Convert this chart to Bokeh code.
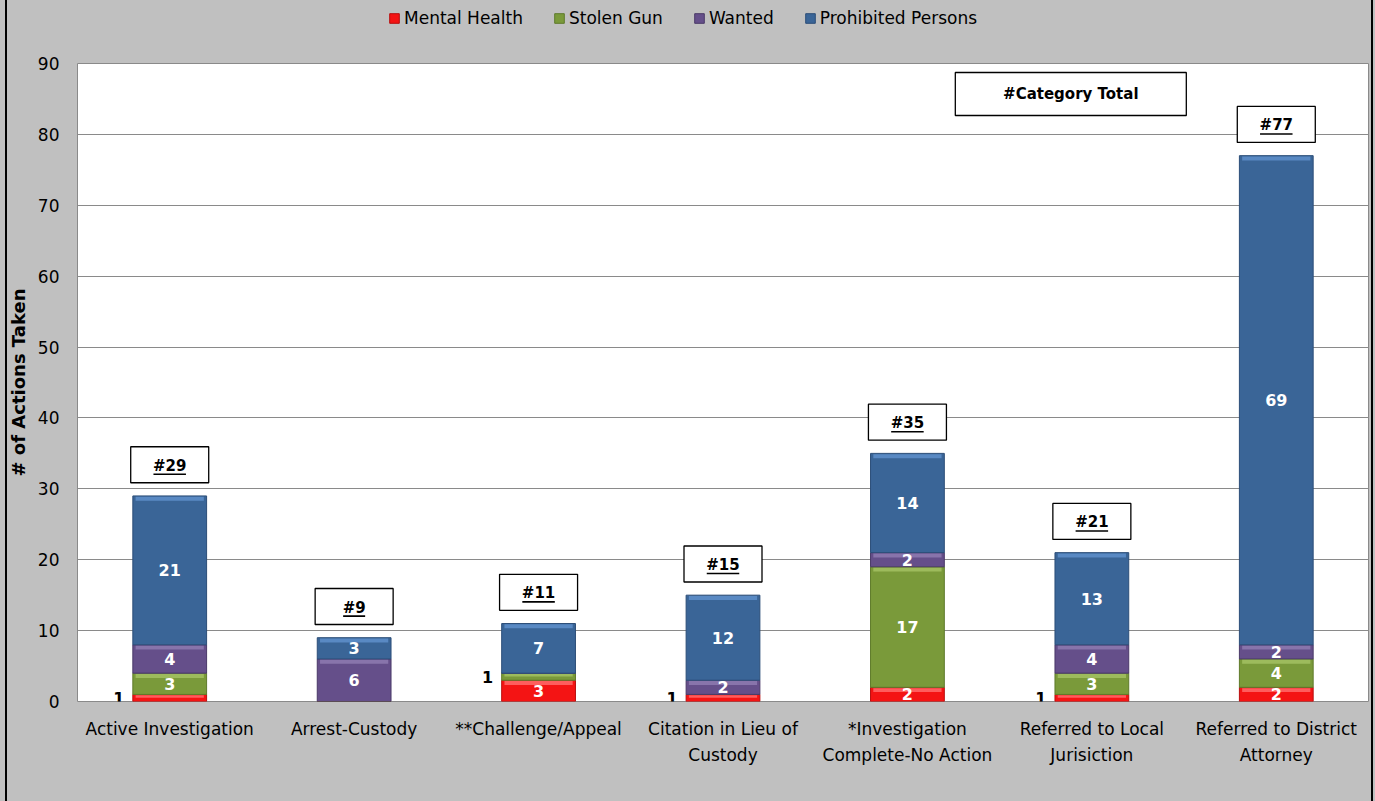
from bokeh.plotting import figure
from bokeh.layouts import column
from bokeh.models import FactorRange, Range1d, Legend, LegendItem, ColumnDataSource
from bokeh.core.properties import value
from bokeh.embed import file_html
from bokeh.resources import INLINE

categories = ["Active Investigation", "Arrest-Custody", "**Challenge/Appeal",
              "Citation in Lieu of\nCustody", "*Investigation\nComplete-No Action",
              "Referred to Local\nJurisiction", "Referred to District\nAttorney"]
series = ["Mental Health", "Stolen Gun", "Wanted", "Prohibited Persons"]
mental_health = [1, 0, 3, 1, 2, 1, 2]
stolen_gun = [3, 0, 1, 0, 17, 3, 4]
wanted = [4, 6, 0, 2, 2, 4, 2]
prohibited = [21, 3, 7, 12, 14, 13, 69]
y_ticks = [0, 10, 20, 30, 40, 50, 60, 70, 80, 90]
legend_note = "#Category Total"

colors = ["#F41414", "#7A9A3A", "#654F8A", "#3A6597"]
edges = ["#B80E0E", "#5E7A2A", "#4A3968", "#2C4E78"]
lights = ["#FF6A6A", "#A3C163", "#8E7AB0", "#5F8FCA"]
FONT = "DejaVu Sans"
GRAY = "#C0C0C0"

data = {"cat": categories, "Mental Health": mental_health, "Stolen Gun": stolen_gun,
        "Wanted": wanted, "Prohibited Persons": prohibited}
totals = [sum(v) for v in zip(mental_health, stolen_gun, wanted, prohibited)]
src = ColumnDataSource(data)

# ---- legend strip ----
lg = figure(width=1375, height=40, output_backend="svg", toolbar_location=None,
            x_range=Range1d(0, 1), y_range=Range1d(0, 1),
            x_axis_location=None, y_axis_location=None,
            min_border=0, min_border_left=0, min_border_right=0, min_border_top=0, min_border_bottom=0)
lg.background_fill_alpha = 0
lg.border_fill_alpha = 0
lg.outline_line_color = None
lg.xgrid.visible = False
lg.ygrid.visible = False
dummies = [lg.vbar(x=[-5], top=[-5], bottom=[-6], width=1, fill_color=c, line_color=e)
           for c, e in zip(colors, edges)]
legend = Legend(items=[LegendItem(label=s, renderers=[r]) for s, r in zip(series, dummies)],
                orientation="horizontal", location=(311, 12), background_fill_alpha=0,
                border_line_color=None, label_text_font=FONT, label_text_font_size="17px",
                label_text_color="black", glyph_width=12, glyph_height=12,
                label_standoff=4, spacing=30, padding=4, margin=0)
lg.add_layout(legend, "center")

# ---- main chart ----
p = figure(x_range=FactorRange(*categories), y_range=Range1d(0, 90),
           width=1375, height=761, output_backend="svg", toolbar_location=None,
           min_border_left=77, min_border_right=7, min_border_top=23, min_border_bottom=100)
p.background_fill_color = "white"
p.border_fill_alpha = 0
p.outline_line_color = "#8A8A8A"

rs = p.vbar_stack(series, x="cat", width=0.4, source=src, fill_color=colors,
                  line_color=edges, line_width=1)

# bevel highlight along the top of each segment
vals = [mental_health, stolen_gun, wanted, prohibited]
for k, s in enumerate(vals):
    hx, htop, hbot = [], [], []
    for i, c in enumerate(categories):
        base = sum(vals[j][i] for j in range(k))
        if s[i] > 0:
            hx.append(c); htop.append(base + s[i] - 0.12); hbot.append(base + s[i] - 0.12 - min(0.55, s[i] * 0.35))
    p.vbar(x=hx, top=htop, bottom=hbot, width=0.37, fill_color=lights[k], line_color=None, fill_alpha=0.85)

# segment labels
lx, ly, lt, ox, oy, ot = [], [], [], [], [], []
for i, c in enumerate(categories):
    base = 0
    for s in vals:
        v = s[i]
        if v > 0:
            mid = base + v / 2
            if v == 1:
                ox.append(c); oy.append(mid); ot.append(str(v))
            else:
                lx.append(c); ly.append(mid); lt.append(str(v))
        base += v
p.text(x=lx, y=ly, text=lt, text_color="white", text_font=value(FONT), text_font_style="bold",
       text_font_size="16px", text_align="center", text_baseline="middle")
p.text(x=ox, y=oy, text=ot, text_color="black", text_font=value(FONT), text_font_style="bold",
       text_font_size="16px", text_align="center", text_baseline="middle", x_offset=-51)

# totals boxes
offset = 4.4
by = [t + offset for t in totals]
tt = ["#%d" % t for t in totals]
p.rect(x=categories, y=by, width=78, height=36, width_units="screen", height_units="screen",
       fill_color="white", line_color="black", line_width=1.3)
p.text(x=categories, y=by, text=tt, text_color="black", text_font=value(FONT), text_font_style="bold",
       text_font_size="15px", text_align="center", text_baseline="middle", y_offset=1)
ul_w = [10.5 * len(s) + 1 for s in tt]
p.rect(x=categories, y=[b - 1.35 for b in by], width=ul_w, height=1.6, width_units="screen",
       height_units="screen", fill_color="black", line_color=None)

# category total note box
note_x = 5.5 - 21 / 184.0
note_y = 85.7
p.rect(x=[note_x], y=[note_y], width=231, height=43, width_units="screen", height_units="screen",
       fill_color="white", line_color="black", line_width=1.3)
p.text(x=[note_x], y=[note_y], text=[legend_note], text_color="black", text_font=value(FONT),
       text_font_style="bold", text_font_size="15px", text_align="center", text_baseline="middle")

# axes
p.yaxis.ticker = y_ticks
p.yaxis.axis_label = "# of Actions Taken"
p.yaxis.axis_label_text_font = FONT
p.yaxis.axis_label_text_font_size = "18px"
p.yaxis.axis_label_text_font_style = "bold"
p.yaxis.axis_label_text_color = "black"
p.yaxis.axis_label_standoff = 6
p.yaxis.major_label_text_font = FONT
p.yaxis.major_label_text_font_size = "17px"
p.yaxis.major_label_text_color = "black"
p.yaxis.major_label_standoff = 12
for ax in (p.xaxis, p.yaxis):
    ax.axis_line_color = None
    ax.major_tick_line_color = None
    ax.minor_tick_line_color = None
p.xaxis.major_label_text_font = FONT
p.xaxis.major_label_text_font_size = "17px"
p.xaxis.major_label_text_color = "black"
p.xaxis.major_label_standoff = 11
p.xaxis.major_label_text_line_height = 1.3

p.xgrid.grid_line_color = None
p.ygrid.grid_line_color = "#8A8A8A"
p.ygrid.grid_line_width = 1

bg = ("linear-gradient(to right, #C0C0C0 5px, #000 5px, #000 7px, #C0C0C0 7px, "
      "#C0C0C0 1371px, #000 1371px, #000 1373px, #C0C0C0 1373px)")
layout = column(lg, p, spacing=0, styles={"background": bg})

open("out.html", "w").write(file_html(layout, INLINE))
